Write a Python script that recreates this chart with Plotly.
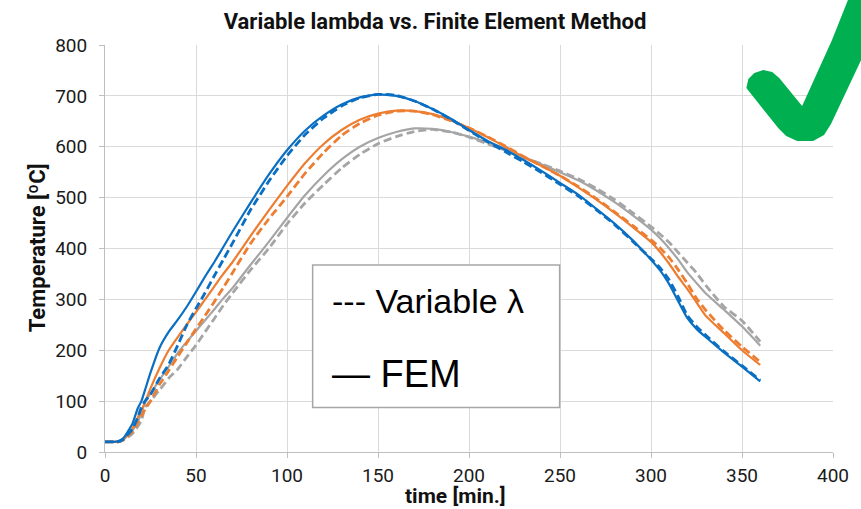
import plotly.graph_objects as go

# ---------------- data ----------------
time_min = [0, 5, 7, 10, 15, 18, 20, 22, 25, 30, 35, 40, 45, 50, 55, 60, 65, 70,
            80, 90, 100, 110, 120, 130, 140, 150, 160, 170, 180, 190, 200, 210,
            220, 230, 240, 250, 260, 270, 280, 290, 300, 305, 310, 315, 320, 325,
            330, 340, 350, 360]

fem_blue = [20, 20, 21, 27, 55, 86, 100, 122, 156, 205, 236, 260, 286, 315, 345, 373, 403, 433,
            490, 545, 593, 632, 661, 683, 697, 703, 700, 690, 674, 655, 633, 612,
            594, 574, 552, 529, 506, 478, 449, 416, 378, 357, 330, 296, 263, 242,
            226, 196, 168, 139]
var_blue = [20, 20, 20, 25, 45, 68, 88, 100, 113, 145, 172, 210, 250, 282, 313, 346, 378, 410,
            476, 532, 582, 624, 656, 680, 696, 703, 701, 690, 674, 654, 632, 610,
            590, 570, 549, 526, 503, 476, 447, 414, 380, 362, 338, 305, 268, 247,
            230, 198, 170, 141]
fem_orange = [20, 20, 20, 25, 45, 68, 82, 98, 125, 165, 200, 226, 251, 275, 300, 325, 350, 373,
              425, 475, 523, 568, 605, 633, 653, 665, 671, 670, 664, 652, 637, 619,
              600, 580, 562, 543, 520, 496, 470, 442, 413, 393, 370, 344, 320, 294,
              268, 234, 200, 171]
var_orange = [20, 20, 20, 24, 40, 58, 70, 84, 100, 133, 160, 188, 215, 242, 268, 295, 323, 352,
              410, 458, 502, 548, 588, 622, 646, 662, 670, 670, 663, 651, 637, 620,
              601, 581, 562, 543, 522, 498, 472, 445, 417, 401, 382, 358, 331, 302,
              279, 240, 207, 177]
fem_gray = [20, 20, 20, 24, 42, 60, 76, 98, 115, 142, 168, 195, 217, 238, 259, 280, 302, 322,
            368, 413, 460, 505, 543, 575, 600, 617, 629, 636, 635, 629, 620, 609,
            596, 580, 565, 550, 534, 514, 491, 465, 437, 420, 400, 378, 353, 332,
            312, 280, 247, 209]
var_gray = [20, 20, 20, 23, 36, 50, 62, 88, 100, 122, 145, 163, 187, 210, 236, 262, 288, 312,
            358, 400, 448, 490, 525, 558, 585, 606, 620, 630, 634, 629, 619, 606,
            593, 579, 566, 552, 537, 518, 496, 470, 443, 428, 412, 392, 372, 352,
            328, 286, 258, 217]

x_ticks = [0, 50, 100, 150, 200, 250, 300, 350, 400]
y_ticks = [0, 100, 200, 300, 400, 500, 600, 700, 800]

title_text = "Variable lambda vs. Finite Element Method"
x_title = "time [min.]"
y_title = "Temperature [ºC]"
legend_line1 = "--- Variable λ"
legend_line2 = "— FEM"

# ---------------- figure ----------------
W, H = 861, 509
ML, MR, MT, MB = 105, 25, 45, 57
PW, PH = W - ML - MR, H - MT - MB


def px(x):
    return (x - ML) / PW


def py(y):
    return (H - MB - y) / PH


BLUE, ORANGE, GRAY = "#0A6FC2", "#ED7D31", "#A5A5A5"

fig = go.Figure()
series = [
    (fem_gray, GRAY, "solid"), (var_gray, GRAY, "dash"),
    (fem_orange, ORANGE, "solid"), (var_orange, ORANGE, "dash"),
    (fem_blue, BLUE, "solid"), (var_blue, BLUE, "dash"),
]
for vals, col, style in series:
    if style == "solid":
        line = dict(color=col, width=2.2, shape="spline", smoothing=0.5)
    else:
        line = dict(color=col, width=2.8, dash="8px,4px", shape="spline", smoothing=0.5)
    fig.add_trace(go.Scatter(x=time_min, y=vals, mode="lines", line=line,
                             showlegend=False, hoverinfo="skip"))

axis_common = dict(
    showgrid=True, gridcolor="#DADADA", gridwidth=1,
    showline=True, linecolor="#BFBFBF", linewidth=1,
    ticks="outside", ticklen=5, tickcolor="#BFBFBF",
    tickfont=dict(family="Roboto", size=19, color="#1a1a1a"),
    zeroline=False, fixedrange=True,
)
fig.update_xaxes(range=[0, 400], tickvals=x_ticks, ticklabelstandoff=1, **axis_common)
fig.update_yaxes(range=[0, 800], tickvals=y_ticks, ticklabelstandoff=8, **axis_common)

fig.update_layout(
    width=W, height=H,
    margin=dict(l=ML, r=MR, t=MT, b=MB, pad=0),
    paper_bgcolor="white", plot_bgcolor="white",
    showlegend=False,
    title=dict(text="<b>" + title_text + "</b>", x=435 / W, xanchor="center",
               y=1 - 21 / H, yanchor="middle", yref="container",
               font=dict(family="Roboto", size=22, color="#111111")),
)

# axis titles
fig.add_annotation(text="<b>" + x_title + "</b>", xref="paper", yref="paper",
                   x=px(457), y=py(496), xanchor="center", yanchor="middle",
                   showarrow=False, font=dict(family="Roboto", size=21, color="#111111"))
fig.add_annotation(text="<b>" + y_title + "</b>", xref="paper", yref="paper",
                   x=px(38), y=py(248), xanchor="center", yanchor="middle", textangle=-90,
                   showarrow=False, font=dict(family="Roboto", size=22, color="#111111"))

# custom legend box
fig.add_shape(type="rect", xref="paper", yref="paper",
              x0=px(313.5), x1=px(561.5), y0=py(407.5), y1=py(265),
              line=dict(color="#A6A6A6", width=1.5), fillcolor="white", layer="above")
fig.add_annotation(text=legend_line1, xref="paper", yref="paper",
                   x=px(331), y=py(301), xanchor="left", yanchor="middle", showarrow=False,
                   font=dict(family="Liberation Sans", size=34, color="#000000"))
fig.add_annotation(text=legend_line2, xref="paper", yref="paper",
                   x=px(331), y=py(374), xanchor="left", yanchor="middle", showarrow=False,
                   font=dict(family="Liberation Sans", size=38, color="#000000"))

# green check mark
check_px = [(749, 88), (751, 79), (757, 73), (766, 70), (775, 72), (782, 78), (805, 106),
            (835, 40), (853, -5), (895, -5), (834, 124), (827, 135), (816, 141),
            (800, 141), (789, 136), (781, 128)]
path = "M " + " L ".join(f"{px(a):.5f},{py(b):.5f}" for a, b in check_px) + " Z"
fig.add_shape(type="path", xref="paper", yref="paper", path=path,
              fillcolor="#00B050", line=dict(width=0), layer="above")

fig.write_html("out.html")
